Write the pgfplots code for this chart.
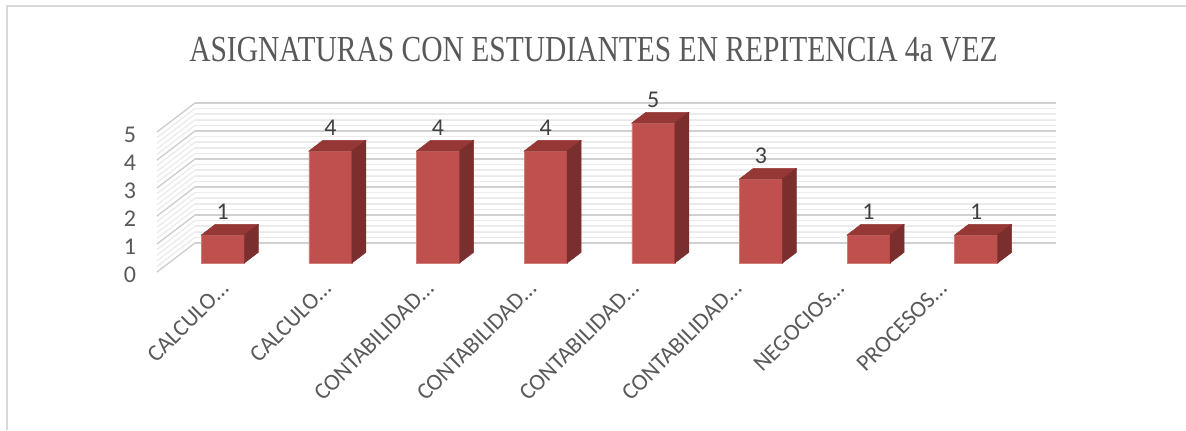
\documentclass[border=0pt]{standalone}
\usepackage{fontspec}
\setmainfont{Carlito}
\newfontfamily\titlefont{Liberation Serif}
\usepackage{pgfplots}
\pgfplotsset{compat=1.18}
\usepackage{pgfplotstable}
\usepackage{graphicx}
\definecolor{barfront}{HTML}{C0504D}
\definecolor{bartop}{HTML}{953735}
\definecolor{barside}{HTML}{7A2E2D}
\definecolor{gridmaj}{HTML}{D0D0D0}
\definecolor{gridmin}{HTML}{EBEBEB}
\definecolor{txt}{HTML}{595959}
\definecolor{lbl}{HTML}{404040}
\definecolor{framec}{HTML}{D9D9D9}
\pgfplotsset{/pgf/number format/assume math mode=true}

\pgfplotstableread{
x y
0 1
1 4
2 4
3 4
4 5
5 3
6 1
7 1
}\datatable

\begin{document}
\begin{tikzpicture}
\path[use as bounding box] (0pt,0pt) rectangle (889.5pt,322.5pt);
\draw[framec, line width=1.1pt] (5.25pt,0pt) -- (5.25pt,318pt) -- (889.5pt,318pt);

\node[inner sep=0pt, text=txt] at (445.1pt,285.4pt)
  {\scalebox{0.805}[1]{\titlefont\fontsize{27.5pt}{30pt}\selectfont ASIGNATURAS CON ESTUDIANTES EN REPITENCIA 4a VEZ}};

% back wall
\begin{axis}[at={(146.25pt,140.25pt)}, anchor=south west,
  scale only axis, width=645.75pt, height=105pt,
  xmin=0, xmax=1, ymin=0, ymax=5,
  axis line style={draw=none},
  xtick=\empty, ytick={0,1,2,3,4,5}, minor y tick num=4, yticklabels={},
  major tick length=0pt, minor tick length=0pt,
  ymajorgrids, yminorgrids,
  major grid style={gridmaj, line width=1.3pt},
  minor grid style={gridmin, line width=1.3pt}]
\end{axis}

% side wall
\foreach \v in {0,...,25}{
  \pgfmathsetmacro\yf{118.5+4.2*\v}
  \pgfmathsetmacro\yb{140.25+4.2*\v}
  \draw[gridmin, line width=1pt] (117.75pt,\yf pt) -- (146.25pt,\yb pt);
}
\foreach \v in {0,...,5}{
  \pgfmathsetmacro\yf{118.5+21*\v}
  \pgfmathsetmacro\yb{140.25+21*\v}
  \draw[gridmaj, line width=1pt] (117.75pt,\yf pt) -- (146.25pt,\yb pt);
}

% y tick labels on front edge
\begin{axis}[at={(117.75pt,118.5pt)}, anchor=south west,
  scale only axis, width=10pt, height=105pt,
  xmin=0, xmax=1, ymin=0, ymax=5,
  axis line style={draw=none},
  xtick=\empty, ytick={0,1,2,3,4,5}, yticklabels={0,1,2,3,4,5},
  major tick length=0pt,
  yticklabel style={anchor=center, inner sep=0pt, xshift=-20.25pt, yshift=-1.8pt,
    font=\fontsize{18pt}{20pt}\selectfont, text=txt}]
\end{axis}

% category labels
\begin{axis}[at={(130pt,109pt)}, anchor=south west,
  scale only axis, width=615.6pt, height=20pt,
  xmin=-0.5, xmax=7.5, ymin=0, ymax=1,
  axis line style={draw=none},
  ytick=\empty, xtick={0,...,7},
  xticklabels={CALCULO…,CALCULO…,CONTABILIDAD…,CONTABILIDAD…,CONTABILIDAD…,CONTABILIDAD…,NEGOCIOS…,PROCESOS…},
  major tick length=0pt,
  xticklabel style={rotate=45, anchor=east, inner sep=0pt,
    font=\fontsize{17.5pt}{20pt}\selectfont, text=txt}]
\end{axis}

% bars
\begin{axis}[at={(126.75pt,125.25pt)}, anchor=south west,
  scale only axis, width=645.75pt, height=105pt,
  xmin=-0.5, xmax=7.5, ymin=0, ymax=5,
  hide axis, clip=false]
\addplot[scatter, only marks, mark=text, text mark={},
  visualization depends on={\thisrow{y} \as \rawy},
  scatter/@pre marker code/.code={%
    \pgfmathsetmacro\hh{\rawy*21}%
    \pgfmathsetmacro\hb{8-\hh}%
    \fill[bartop] (-16.125pt,0pt) -- (-5.625pt,8pt) -- (26.625pt,8pt) -- (16.125pt,0pt) -- cycle;
    \fill[barside] (16.125pt,0pt) -- (26.625pt,8pt) -- (26.625pt,\hb pt) -- (16.125pt,-\hh pt) -- cycle;
  },
  scatter/@post marker code/.code={}
] table[x=x, y=y] {\datatable};
\addplot[ybar, bar width=32.25pt, fill=barfront, draw=barfront!75!white, line width=0.4pt,
  nodes near coords,
  every node near coord/.append style={anchor=south, yshift=11.5pt, inner sep=0pt,
    font=\fontsize{18pt}{20pt}\selectfont, text=lbl}
] table[x=x, y=y] {\datatable};
\end{axis}
\end{tikzpicture}
\end{document}
